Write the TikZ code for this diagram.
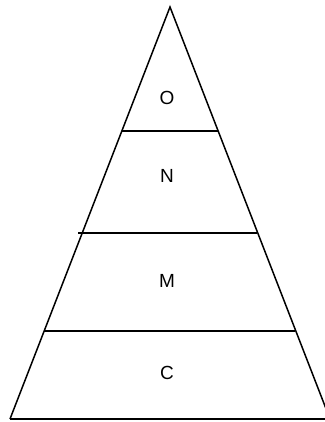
\documentclass[tikz,border=0pt]{standalone}
\usepackage{fontspec}
\setmainfont{Liberation Sans}
\begin{document}
\begin{tikzpicture}[x=1pt,y=-1pt]
\tikzstyle{layer}=[font=\fontsize{19}{19}\selectfont,inner sep=0pt]
\tikzstyle{edge}=[line width=1.5pt,line join=miter]
\tikzstyle{cut}=[line width=1.3pt]
\useasboundingbox (0,0) rectangle (324,422);

% outline of the pyramid
\coordinate (apex) at (170,7);
\coordinate (bl) at (10,419);
\coordinate (br) at (330,419);
\draw[edge] (bl) -- (apex) -- (br);
\draw[edge] (bl) -- (br);

% dividing lines
\foreach \y/\xl/\xr in {131/122/218,233/78/257,331/44/295} {
  \draw[cut] (\xl,\y) -- (\xr,\y);
}

% layer labels
\foreach \y/\lbl in {98/O,176/N,281/M,373/C} {
  \node[layer] (lbl\lbl) at (167,\y) {\lbl};
}
\end{tikzpicture}
\end{document}
